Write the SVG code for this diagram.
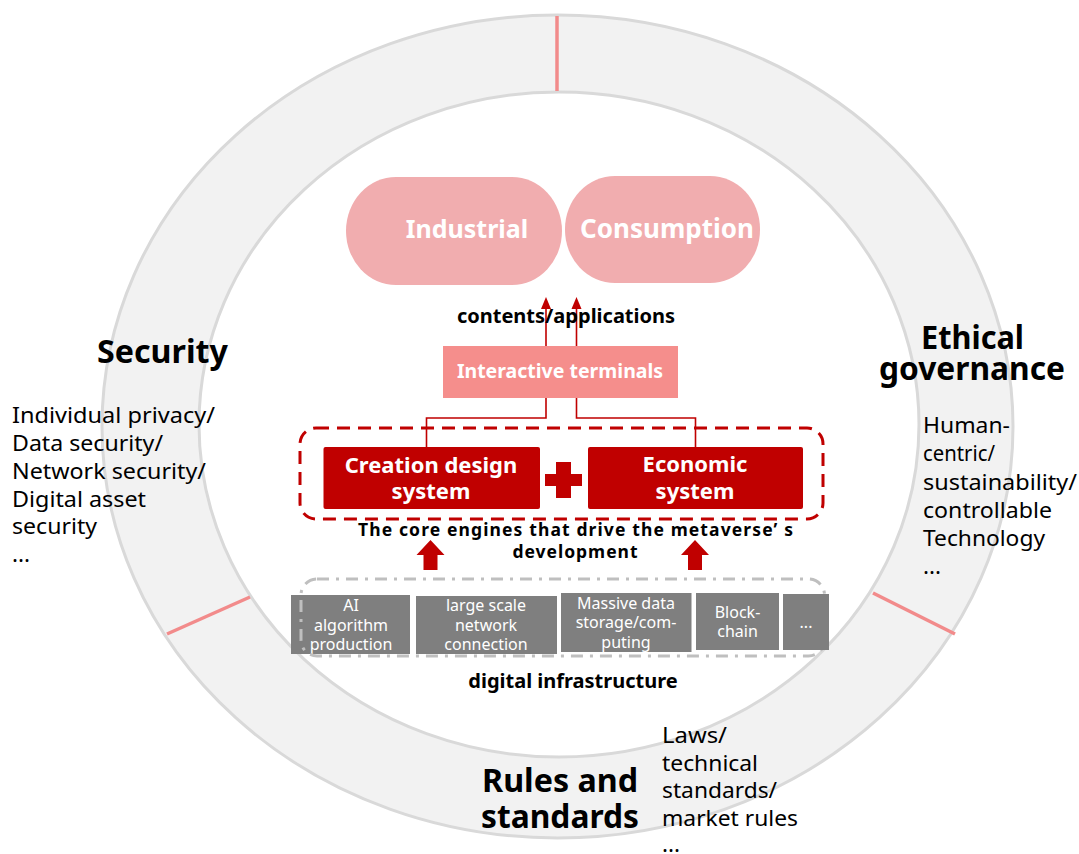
<svg xmlns="http://www.w3.org/2000/svg" width="1079" height="854" viewBox="0 0 1079 854">
<defs>
<style>
.t{font-family:"Noto Sans","Open Sans","Liberation Sans",sans-serif;}
.b{font-weight:bold;}
.h{font-size:32px;font-weight:bold;}
.l{font-size:22.5px;}
.ring{fill:#f2f2f2;stroke:#d9d9d9;stroke-width:3;fill-rule:evenodd;}
.div{stroke:#f28b8b;stroke-width:3.5;}
.pill{fill:#f1adaf;}
.conn{fill:none;stroke:#c00000;stroke-width:1.6;}
.gbox{fill:#7f7f7f;}
.gt{fill:#ffffff;font-size:16px;text-anchor:middle;}
.wt{fill:#ffffff;text-anchor:middle;}
</style>
</defs>

<g id="ring">
<path class="ring" d="M102,426.5 a455.5,411.5 0 1,0 911,0 a455.5,411.5 0 1,0 -911,0 Z M199,424.5 a360,332.5 0 1,0 720,0 a360,332.5 0 1,0 -720,0 Z"/>
<line class="div" x1="557" y1="16" x2="557" y2="91"/>
<line class="div" x1="167" y1="634" x2="250" y2="597"/>
<line class="div" x1="873" y1="593" x2="955" y2="634"/>
</g>

<g id="security">
<text class="t h" x="97" y="363" textLength="131" lengthAdjust="spacingAndGlyphs">Security</text>
<text class="t l" x="12" y="423" textLength="203" lengthAdjust="spacingAndGlyphs">Individual privacy/</text>
<text class="t l" x="12" y="451" textLength="151" lengthAdjust="spacingAndGlyphs">Data security/</text>
<text class="t l" x="12" y="479" textLength="194" lengthAdjust="spacingAndGlyphs">Network security/</text>
<text class="t l" x="12" y="507" textLength="134" lengthAdjust="spacingAndGlyphs">Digital asset</text>
<text class="t l" x="12" y="534" textLength="85" lengthAdjust="spacingAndGlyphs">security</text>
<text class="t l" x="12" y="562">...</text>
</g>

<g id="ethical">
<text class="t h" x="921" y="349" textLength="103" lengthAdjust="spacingAndGlyphs">Ethical</text>
<text class="t h" x="879" y="380" textLength="186" lengthAdjust="spacingAndGlyphs">governance</text>
<text class="t l" x="923" y="433" textLength="87" lengthAdjust="spacingAndGlyphs">Human-</text>
<text class="t l" x="923" y="461" textLength="72" lengthAdjust="spacingAndGlyphs">centric/</text>
<text class="t l" x="923" y="490" textLength="154" lengthAdjust="spacingAndGlyphs">sustainability/</text>
<text class="t l" x="923" y="518" textLength="129" lengthAdjust="spacingAndGlyphs">controllable</text>
<text class="t l" x="923" y="546" textLength="122" lengthAdjust="spacingAndGlyphs">Technology</text>
<text class="t l" x="923" y="574">...</text>
</g>

<g id="rules">
<text class="t h" x="482" y="792" font-size="34" textLength="156" lengthAdjust="spacingAndGlyphs">Rules and</text>
<text class="t h" x="481" y="828" font-size="34" textLength="158" lengthAdjust="spacingAndGlyphs">standards</text>
<text class="t l" x="662" y="743" textLength="65" lengthAdjust="spacingAndGlyphs">Laws/</text>
<text class="t l" x="662" y="771" textLength="96" lengthAdjust="spacingAndGlyphs">technical</text>
<text class="t l" x="662" y="798" textLength="115" lengthAdjust="spacingAndGlyphs">standards/</text>
<text class="t l" x="662" y="826" textLength="136" lengthAdjust="spacingAndGlyphs">market rules</text>
<text class="t l" x="662" y="852">...</text>
</g>

<g id="connectors">
<polyline class="conn" points="426.5,447 426.5,418 546,418 546,306"/>
<polyline class="conn" points="695.5,447 695.5,418 576.5,418 576.5,306"/>
<path d="M546,297 L551,309 L541,309 Z" fill="#c00000"/>
<path d="M576.5,297 L581.5,309 L571.5,309 Z" fill="#c00000"/>
<path d="M430.5,540 L444.5,555 L437.5,555 L437.5,570 L423.5,570 L423.5,555 L416.5,555 Z" fill="#c00000"/>
<path d="M695,540 L709,555 L702,555 L702,570 L688,570 L688,555 L681,555 Z" fill="#c00000"/>
</g>

<g id="industrial">
<rect class="pill" x="346" y="177" width="216" height="108" rx="50" ry="54"/>
<text class="t b wt" x="467" y="238" font-size="25">Industrial</text>
</g>

<g id="consumption">
<rect class="pill" x="565" y="176" width="195" height="107" rx="50" ry="53"/>
<text class="t b wt" x="667" y="238" font-size="26">Consumption</text>
</g>

<g id="contents">
<text class="t b" x="566" y="323" font-size="20" text-anchor="middle">contents/applications</text>
</g>

<g id="interactive">
<rect x="443" y="346" width="235" height="52" fill="#f58e8c"/>
<text class="t b wt" x="560" y="378" font-size="19.5">Interactive terminals</text>
</g>

<g id="engines">
<rect x="300" y="428" width="523" height="91" rx="16" ry="16" fill="none" stroke="#c00000" stroke-width="3" stroke-dasharray="13,8"/>
<text class="t b" x="575.5" y="536" font-size="17.5" text-anchor="middle" textLength="435" lengthAdjust="spacing">The core engines that drive the metaverse’  s</text>
<text class="t b" x="575" y="558" font-size="17.5" text-anchor="middle" textLength="125" lengthAdjust="spacing">development</text>
</g>

<g id="creation">
<rect x="323.5" y="447" width="216.5" height="62" rx="2" fill="#c00000"/>
<text class="t b wt" x="431" y="473" font-size="22">Creation design</text>
<text class="t b wt" x="431" y="499" font-size="22">system</text>
</g>

<g id="plus">
<rect x="545" y="474" width="37" height="12" fill="#c00000"/>
<rect x="556" y="462" width="15" height="36" fill="#c00000"/>
</g>

<g id="economic">
<rect x="588" y="447" width="215" height="62" rx="2" fill="#c00000"/>
<text class="t b wt" x="695" y="472" font-size="22">Economic</text>
<text class="t b wt" x="695" y="499" font-size="22">system</text>
</g>

<g id="infra">
<g id="ai">
<rect class="gbox" x="291" y="595" width="119" height="59"/>
<text class="t gt" x="351" y="611">AI</text>
<text class="t gt" x="351" y="631">algorithm</text>
<text class="t gt" x="351" y="650">production</text>
</g>
<rect x="301" y="579" width="523.5" height="77" rx="16" ry="16" fill="none" stroke="#bfbfbf" stroke-width="3" stroke-dasharray="12,7,3,7"/>
<g id="network">
<rect class="gbox" x="416" y="596" width="141" height="58"/>
<text class="t gt" x="486" y="611">large scale</text>
<text class="t gt" x="486" y="631">network</text>
<text class="t gt" x="486" y="650">connection</text>
</g>
<g id="storage">
<rect class="gbox" x="561" y="593" width="130.5" height="59"/>
<text class="t gt" x="626" y="609" font-size="15">Massive data</text>
<text class="t gt" x="626" y="628" font-size="15">storage/com-</text>
<text class="t gt" x="626" y="648" font-size="15">puting</text>
</g>
<g id="blockchain">
<rect class="gbox" x="696" y="593" width="83" height="57"/>
<text class="t gt" x="737.5" y="618">Block-</text>
<text class="t gt" x="737.5" y="637">chain</text>
</g>
<g id="more">
<rect class="gbox" x="783" y="594" width="46" height="56"/>
<text class="t gt" x="806" y="628">...</text>
</g>
<text class="t b" x="573" y="688" font-size="20" text-anchor="middle">digital infrastructure</text>
</g>
</svg>
